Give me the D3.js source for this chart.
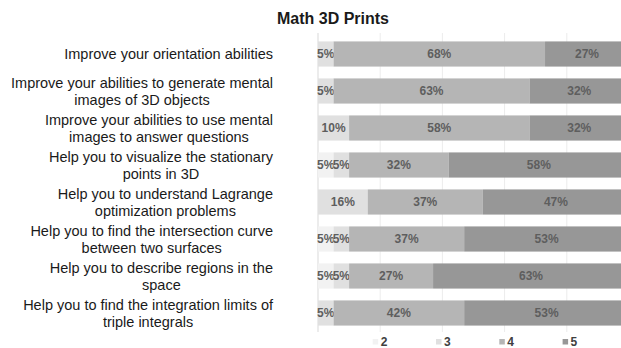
<!DOCTYPE html>
<html>
<head>
<meta charset="utf-8">
<script src="https://cdn.jsdelivr.net/npm/d3@7"></script>
<style>
  body { margin: 0; background: #fff; }
  svg { font-family: "Liberation Sans", Arial, sans-serif; display: block; }
</style>
</head>
<body>
<div id="chart"></div>
<script>
// questions, one per row (already split into lines as in the picture)
const questions = [
  ["Improve your orientation abilities"],
  ["Improve your abilities to generate mental", "images of 3D objects"],
  ["Improve your abilities to use mental", "images to answer questions"],
  ["Help you to visualize the stationary", "points in 3D"],
  ["Help you to understand Lagrange", "optimization problems"],
  ["Help you to find the intersection curve", "between two surfaces"],
  ["Help you to describe regions in the", "space"],
  ["Help you to find the integration limits of", "triple integrals"]
];
const scores = ["2", "3", "4", "5"];
const pct2 = [0, 0, 0, 5, 0, 5, 5, 0];
const pct3 = [5, 5, 10, 5, 16, 5, 5, 5];
const pct4 = [68, 63, 58, 32, 37, 37, 27, 42];
const pct5 = [27, 32, 32, 58, 47, 53, 63, 53];
const colors = ["#f2f2f2", "#e0e0e0", "#b5b5b5", "#979797"];

const W = 621, H = 348;
const margin = { top: 35.5, left: 318, bottom: 16.5 };
const plotW = 311; // extends past the window edge, as in the picture
const labelRight = 273;

const rows = questions.map((q, i) => ({
  idx: i, q, "2": pct2[i], "3": pct3[i], "4": pct4[i], "5": pct5[i]
}));

const svg = d3.select("#chart").append("svg")
    .attr("width", W)
    .attr("height", H);

const x = d3.scaleLinear().domain([0, 100]).range([margin.left, margin.left + plotW]);
const y = d3.scaleBand()
    .domain(d3.range(questions.length))
    .range([margin.top, H - margin.bottom])
    .paddingInner(0.32)
    .paddingOuter(0.16);
const color = d3.scaleOrdinal().domain(scores).range(colors);

// title
svg.append("text")
    .attr("x", 333).attr("y", 24)
    .attr("text-anchor", "middle")
    .attr("font-size", 16).attr("font-weight", "bold")
    .attr("fill", "#1a1a1a")
    .text("Math 3D Prints");

// grid
svg.append("g")
  .selectAll("line")
  .data([20, 40, 60, 80])
  .join("line")
    .attr("x1", d => x(d)).attr("x2", d => x(d))
    .attr("y1", 33).attr("y2", 332)
    .attr("stroke", "#ececec").attr("stroke-width", 1);

svg.append("line")
    .attr("x1", x(0)).attr("x2", x(0))
    .attr("y1", 33).attr("y2", 332)
    .attr("stroke", "#d9d9d9");

// stacked bars
const series = d3.stack().keys(scores)(rows);

const layer = svg.append("g")
  .selectAll("g")
  .data(series)
  .join("g")
    .attr("fill", d => color(d.key));

layer.selectAll("rect")
  .data(d => d.filter(s => s[1] - s[0] > 0))
  .join("rect")
    .attr("x", d => x(d[0]))
    .attr("y", d => y(d.data.idx))
    .attr("width", d => x(d[1]) - x(d[0]))
    .attr("height", y.bandwidth());

layer.selectAll("text")
  .data(d => d.filter(s => s[1] - s[0] > 0))
  .join("text")
    .attr("x", d => (x(d[0]) + x(d[1])) / 2)
    .attr("y", d => y(d.data.idx) + y.bandwidth() / 2)
    .attr("dy", "0.35em")
    .attr("text-anchor", "middle")
    .attr("font-size", 12).attr("font-weight", "bold")
    .attr("fill", "#5e5e5e")
    .text(d => (d[1] - d[0]) + "%");

// category labels: first line right-aligned, second line centred under it
const lab = svg.append("g")
  .selectAll("g")
  .data(rows)
  .join("g")
    .attr("transform", d => `translate(0,${y(d.idx) + y.bandwidth() / 2})`)
    .attr("font-size", 14.5)
    .attr("fill", "#1a1a1a");

lab.each(function (d) {
  const g = d3.select(this);
  const n = d.q.length;
  const first = g.append("text")
      .attr("x", labelRight)
      .attr("y", n === 1 ? 0 : -8.5)
      .attr("dy", "0.35em")
      .attr("text-anchor", "end")
      .text(d.q[0]);
  if (n > 1) {
    const w = first.node().getComputedTextLength();
    g.append("text")
        .attr("x", labelRight - w / 2)
        .attr("y", 8.5)
        .attr("dy", "0.35em")
        .attr("text-anchor", "middle")
        .text(d.q[1]);
  }
});

// legend
const leg = svg.append("g")
  .selectAll("g")
  .data(scores)
  .join("g")
    .attr("transform", (d, i) => `translate(${372.7 + i * 63.3},339)`);

leg.append("rect")
    .attr("width", 5.5).attr("height", 5.5)
    .attr("fill", d => color(d));

leg.append("text")
    .attr("x", 8).attr("y", 7)
    .attr("font-size", 12).attr("font-weight", "bold")
    .attr("fill", "#404040")
    .text(d => d);
</script>
</body>
</html>
